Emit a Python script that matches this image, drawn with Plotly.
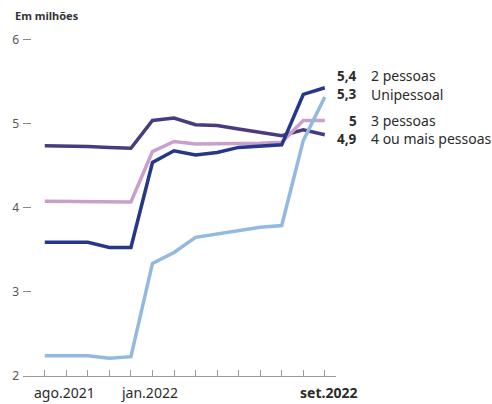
import plotly.graph_objects as go

months = ["ago.2021", "set.2021", "out.2021", "nov.2021", "dez.2021", "jan.2022", "fev.2022",
          "mar.2022", "abr.2022", "mai.2022", "jun.2022", "jul.2022", "ago.2022", "set.2022"]
shown_months = ["ago.2021", "jan.2022", "set.2022"]

quatro = [4.74, 4.74, 4.73, 4.72, 4.71, 5.04, 5.07, 4.99, 4.98, 4.94, 4.90, 4.86, 4.93, 4.87]
tres = [4.08, 4.08, 4.08, 4.07, 4.07, 4.67, 4.79, 4.76, 4.76, 4.77, 4.77, 4.78, 5.04, 5.04]
dois = [3.59, 3.59, 3.59, 3.53, 3.53, 4.54, 4.68, 4.63, 4.66, 4.72, 4.74, 4.75, 5.35, 5.43]
unipessoal = [2.24, 2.24, 2.24, 2.21, 2.23, 3.34, 3.47, 3.65, 3.69, 3.73, 3.77, 3.79, 4.80, 5.32]

series_names = ["4 ou mais pessoas", "3 pessoas", "2 pessoas", "Unipessoal"]
series_values = [quatro, tres, dois, unipessoal]
series_colors = ["#4a3b80", "#c99fcb", "#26378a", "#93b9e0"]
label_y = [4.82, 5.04, 5.57, 5.35]

yticks = [2, 3, 4, 5, 6]

FONT = "Noto Sans"
fig = go.Figure()
for name, vals, col in zip(series_names, series_values, series_colors):
    fig.add_trace(go.Scatter(x=months, y=vals, mode="lines", name=name,
                             line=dict(color=col, width=3.5), hoverinfo="skip"))

for name, vals, ly in zip(series_names, series_values, label_y):
    v = round(vals[-1], 1)
    txt = (f"{v:g}").replace(".", ",")
    fig.add_annotation(x=months[-1], y=ly, xref="x", yref="y", text=f"<b>{txt}</b>",
                       showarrow=False, xanchor="right", xshift=34,
                       font=dict(family=FONT, size=13.5, color="#2b2b2b"))
    fig.add_annotation(x=months[-1], y=ly, xref="x", yref="y", text=name,
                       showarrow=False, xanchor="left", xshift=44,
                       font=dict(family=FONT, size=14, color="#2b2b2b"))

shifts = {"ago.2021": (-13, "left"), "jan.2022": (-3, "center"), "set.2022": (4, "center")}
for m in shown_months:
    sx, anc = shifts[m]
    t = f"<b>{m}</b>" if m == months[-1] else m
    fig.add_annotation(x=m, y=0, xref="x", yref="paper", text=t, showarrow=False,
                       xanchor=anc, yanchor="top", xshift=sx, yshift=-5,
                       font=dict(family=FONT, size=14, color="#2b2b2b"))

fig.add_annotation(x=0, y=1, xref="paper", yref="paper", text="<b>Em milhões</b>",
                   showarrow=False, xanchor="left", yanchor="middle", xshift=-10, yshift=8,
                   font=dict(family=FONT, size=11, color="#333333"))

fig.update_layout(
    width=492, height=404,
    margin=dict(l=20, r=156, t=23, b=28),
    paper_bgcolor="white", plot_bgcolor="white",
    showlegend=False,
    font=dict(family=FONT),
)
fig.update_xaxes(type="category", range=[-1.01, 13.52], showgrid=False, zeroline=False,
                 showline=True, linecolor="#9a9a9a", linewidth=1,
                 ticks="inside", ticklen=6, tickcolor="#9a9a9a", tickwidth=1,
                 tickvals=months, showticklabels=False)
fig.update_yaxes(range=[2, 6.2], showgrid=False, zeroline=False, showline=False,
                 ticks="inside", ticklen=8, tickcolor="#888888", tickwidth=1,
                 tickvals=yticks, ticktext=[str(t) for t in yticks], ticklabelstandoff=3,
                 tickfont=dict(family=FONT, size=12, color="#555555"))

fig.write_html("out.html")
